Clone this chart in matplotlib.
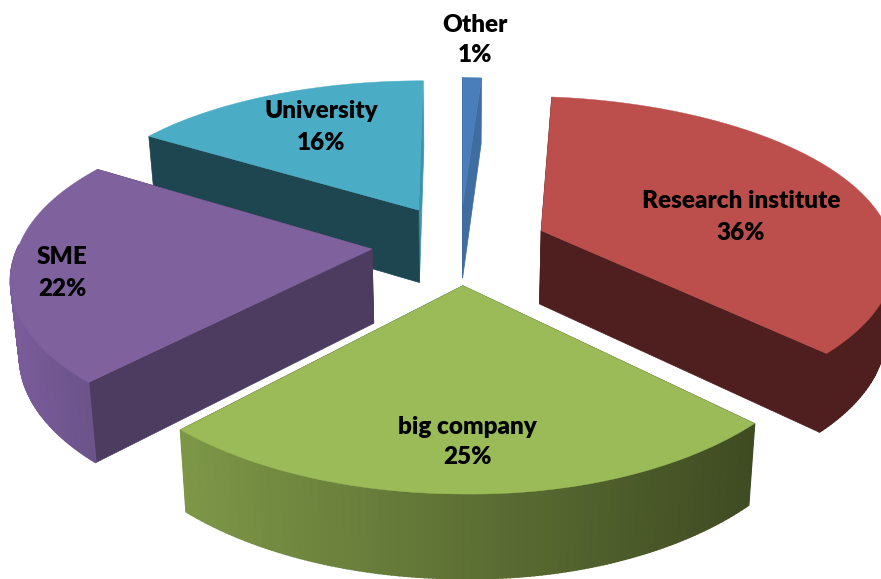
import numpy as np
import matplotlib
matplotlib.use('Agg')
import matplotlib.pyplot as plt
from matplotlib.colors import to_rgb

names = ['Other', 'Research institute', 'big company', 'SME', 'University']
shares = [1, 36, 25, 22, 16]

top_colors = ['#4a7ebb', '#bc4f4c', '#9bbb59', '#7f619d', '#4bacc6']
start_colors = ['#3f6da0', '#4e1f1e', '#3f4b22', '#4e3c60', '#1e4650']
end_colors = ['#3f6da0', '#4e1f1e', '#3f4b22', '#4e3c60', '#3c93ab']
rim_left = ['#3f6da0', '#4e1f1e', '#7d9747', '#7a5c9a', '#1e4650']
rim_right = ['#3f6da0', '#4e1f1e', '#3f4b22', '#6a5288', '#1e4650']
label_xy = [(475, 40), (741, 217), (467, 442), (62, 273), (321, 127)]

# projection of the pie plane onto the canvas (pixels)
CX, CY = 460, 244
A, B = 353, 160
K_X, K_Y, K_Z = 0.125, 0.16, 0.1
EXPLODE_U, EXPLODE_V = 0.25, 0.25
DEPTH = 74
SHRINK = 0.98


def project(u, v):
    # small correction terms pull the near left and right sides out a little
    x = CX + A * u / (1 + K_X * v) - 11 * np.minimum(u, 0) * np.minimum(v, 0)
    y = CY - B * v / (1 + K_Y * v) + 5 * np.maximum(u, 0)
    return x, y


def drop(u, v):
    x, y = project(u, v)
    return CX + (x - CX) * SHRINK, y + DEPTH / (1 + K_Z * v)


fig = plt.figure(figsize=(8.81, 5.79), dpi=100)
ax = fig.add_axes([0, 0, 1, 1])
ax.set_xlim(0, 881)
ax.set_ylim(579, 0)
ax.axis('off')

edges = np.cumsum([0] + shares) * 3.6
# drawn from the back of the pie to the front
for i in [4, 0, 1, 3, 2]:
    a0, a1 = np.radians(edges[i]), np.radians(edges[i + 1])
    mid = (a0 + a1) / 2
    ou = EXPLODE_U * np.sin(mid)
    ov = EXPLODE_V * np.cos(mid)
    t = np.linspace(a0, a1, 160)
    us = ou + np.sin(t)
    vs = ov + np.cos(t)

    tx, ty = project(us, vs)
    bx, by = drop(us, vs)
    px, py = project(ou, ov)
    qx, qy = drop(ou, ov)

    # flat cut faces on both sides of the slice
    ax.fill([px, tx[-1], bx[-1], qx], [py, ty[-1], by[-1], qy], color=end_colors[i], lw=0.5)
    ax.fill([px, tx[0], bx[0], qx], [py, ty[0], by[0], qy], color=start_colors[i], lw=0.5)

    # outer rim on the near side only, shaded across its width
    c0, c1 = np.array(to_rgb(rim_left[i])), np.array(to_rgb(rim_right[i]))
    xmin, xmax = tx.min(), tx.max()
    for j in range(len(t) - 1):
        if np.cos(t[j]) > 0.02:
            continue
        f = (tx[j] - xmin) / max(xmax - xmin, 1)
        c = c0 + (c1 - c0) * f
        ax.fill([tx[j], tx[j + 1], bx[j + 1], bx[j]], [ty[j], ty[j + 1], by[j + 1], by[j]],
                color=c, lw=1.2)

    ax.fill(np.r_[px, tx], np.r_[py, ty], color=top_colors[i], lw=0.3)

for name, share, (x, y) in zip(names, shares, label_xy):
    ax.text(x, y, f'{name}\n{share}%', ha='center', va='center', family='Lato',
            weight=800, fontsize=17.5, linespacing=1.5, color='black')

fig.savefig('out.png', dpi=100)
